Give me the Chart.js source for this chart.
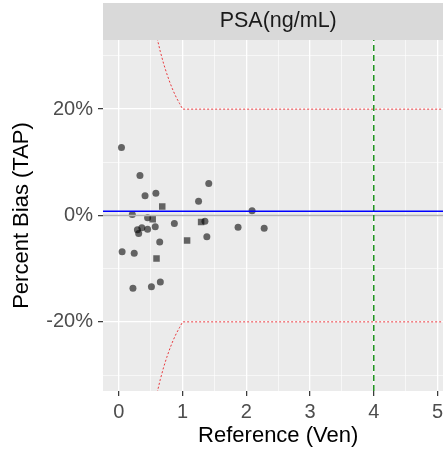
<!DOCTYPE html>
<html lang="en">
    <head>
        <meta charset="UTF-8" />
        <title>PSA percent bias</title>
        <style>
            body {
                margin: 0;
                padding: 0;
                background: #fff;
                overflow: hidden;
            }
            #wrap {
                position: relative;
                width: 458px;
                height: 449px;
            }
        </style>
        <script src="https://cdn.jsdelivr.net/npm/chart.js"></script>
    </head>
    <body>
        <div id="wrap"><canvas id="chart"></canvas></div>
        <script>
            // points (x = reference, y = % bias)
            const circleX = [0.04, 0.33, 0.41, 0.58, 1.41, 1.25, 2.09, 0.21, 0.45, 1.35, 0.87, 0.57, 0.36, 0.29, 0.31, 0.45, 1.87, 2.28, 1.38, 0.64, 0.05, 0.24, 0.22, 0.51, 0.65];
            const circleY = [12.8, 7.5, 3.7, 4.2, 6.0, 2.7, 0.9, 0.2, -0.4, -1.1, -1.5, -2.1, -2.3, -2.7, -3.4, -2.6, -2.2, -2.4, -4.0, -5.0, -6.8, -7.1, -13.7, -13.4, -12.5];
            const squareX = [0.68, 0.53, 1.29, 1.07, 0.59];
            const squareY = [1.7, -0.7, -1.2, -4.7, -8.1];

            // allowable limit lines
            const limitX = [0.6, 0.65, 0.7, 0.75, 0.8, 0.85, 0.9, 0.95, 1, 5.3];
            const limitUp = [33.3, 30.8, 28.6, 26.7, 25, 23.5, 22.2, 21.1, 20, 20];
            const limitLow = [-33.3, -30.8, -28.6, -26.7, -25, -23.5, -22.2, -21.1, -20, -20];

            const meanBias = 0.8;
            const cutoffX = 4;

            const xTicks = [0, 0.5, 1, 1.5, 2, 2.5, 3, 3.5, 4, 4.5, 5];
            const yTicks = [-30, -20, -10, 0, 10, 20, 30];

            const xMin = -0.25, xMax = 5.25, yMin = -33, yMax = 33;

            const pts = (xs, ys) => xs.map((x, i) => ({ x: x, y: ys[i] }));

            const panel = {
                id: "panel",
                beforeDraw(chart) {
                    const { ctx, chartArea: a, titleBlock: t } = chart;
                    ctx.save();
                    ctx.fillStyle = "#EBEBEB";
                    ctx.fillRect(a.left, a.top, a.right - a.left, a.bottom - a.top);
                    ctx.fillStyle = "#D9D9D9";
                    ctx.fillRect(a.left, t.top, a.right - a.left, t.bottom - t.top);
                    ctx.restore();
                },
            };

            const isMajorX = (v) => Number.isInteger(v);
            const isMajorY = (v) => v % 20 === 0;

            new Chart(document.getElementById("chart"), {
                type: "scatter",
                data: {
                    datasets: [
                        {
                            data: pts(circleX, circleY),
                            pointStyle: "circle",
                            pointRadius: 3.5,
                            backgroundColor: "rgba(0,0,0,0.58)",
                            borderWidth: 0,
                            order: 5,
                        },
                        {
                            data: pts(squareX, squareY),
                            pointStyle: "rect",
                            pointRadius: 4.6,
                            backgroundColor: "rgba(0,0,0,0.58)",
                            borderWidth: 0,
                            order: 5,
                        },
                        {
                            data: pts([xMin, xMax], [0, 0]),
                            showLine: true,
                            pointRadius: 0,
                            borderColor: "#b3b3b3",
                            borderWidth: 1.6,
                            order: 4,
                        },
                        {
                            data: pts([xMin, xMax], [meanBias, meanBias]),
                            showLine: true,
                            pointRadius: 0,
                            borderColor: "#0000ff",
                            borderWidth: 1.6,
                            order: 1,
                        },
                        {
                            data: pts(limitX, limitUp),
                            showLine: true,
                            pointRadius: 0,
                            borderColor: "#e8383d",
                            borderWidth: 1,
                            borderDash: [2, 2],
                            order: 2,
                        },
                        {
                            data: pts(limitX, limitLow),
                            showLine: true,
                            pointRadius: 0,
                            borderColor: "#e8383d",
                            borderWidth: 1,
                            borderDash: [2, 2],
                            order: 2,
                        },
                        {
                            data: pts([cutoffX, cutoffX], [yMin, yMax]),
                            showLine: true,
                            pointRadius: 0,
                            borderColor: "#1f941f",
                            borderWidth: 1.5,
                            borderDash: [6, 4],
                            order: 1,
                        },
                    ],
                },
                options: {
                    responsive: true,
                    maintainAspectRatio: false,
                    animation: false,
                    layout: { padding: { top: 3, right: 2, bottom: 0, left: 0 } },
                    plugins: {
                        legend: { display: false },
                        tooltip: { enabled: false },
                        title: {
                            display: true,
                            fullSize: false,
                            text: "PSA(ng/mL)",
                            color: "#1A1A1A",
                            font: { family: "'Liberation Sans', Arial, sans-serif", size: 21.5, weight: "normal", lineHeight: "25px" },
                            padding: { top: 6, bottom: 6 },
                        },
                    },
                    scales: {
                        x: {
                            type: "linear",
                            min: xMin,
                            max: xMax,
                            afterBuildTicks: (s) => { s.ticks = xTicks.map((v) => ({ value: v })); },
                            afterFit: (s) => { s.height = 58; },
                            border: { display: false },
                            grid: {
                                color: "#ffffff",
                                lineWidth: (c) => (isMajorX(c.tick.value) ? 1.3 : 0.6),
                                tickColor: (c) => (isMajorX(c.tick.value) ? "#333333" : "rgba(0,0,0,0)"),
                                tickLength: 5,
                                tickWidth: 1.2,
                            },
                            ticks: {
                                color: "#4D4D4D",
                                padding: 4,
                                maxRotation: 0,
                                font: { family: "'Liberation Sans', Arial, sans-serif", size: 20 },
                                callback: (v) => (isMajorX(v) ? String(v) : ""),
                            },
                            title: {
                                display: true,
                                text: "Reference (Ven)",
                                color: "#000000",
                                font: { family: "'Liberation Sans', Arial, sans-serif", size: 22 },
                                padding: { top: 0, bottom: 0 },
                            },
                        },
                        y: {
                            type: "linear",
                            min: yMin,
                            max: yMax,
                            afterBuildTicks: (s) => { s.ticks = yTicks.map((v) => ({ value: v })); },
                            afterFit: (s) => { s.width = 103; },
                            border: { display: false },
                            grid: {
                                color: "#ffffff",
                                lineWidth: (c) => (isMajorY(c.tick.value) ? 1.3 : 0.6),
                                tickColor: (c) => (isMajorY(c.tick.value) ? "#333333" : "rgba(0,0,0,0)"),
                                tickLength: 5,
                                tickWidth: 1.2,
                            },
                            ticks: {
                                color: "#4D4D4D",
                                padding: 5,
                                font: { family: "'Liberation Sans', Arial, sans-serif", size: 20 },
                                callback: (v) => (isMajorY(v) ? v + "%" : ""),
                            },
                            title: {
                                display: true,
                                text: "Percent Bias (TAP)",
                                color: "#000000",
                                font: { family: "'Liberation Sans', Arial, sans-serif", size: 22 },
                                padding: { top: 9, bottom: 0 },
                            },
                        },
                    },
                },
                plugins: [panel],
            });
        </script>
    </body>
</html>
